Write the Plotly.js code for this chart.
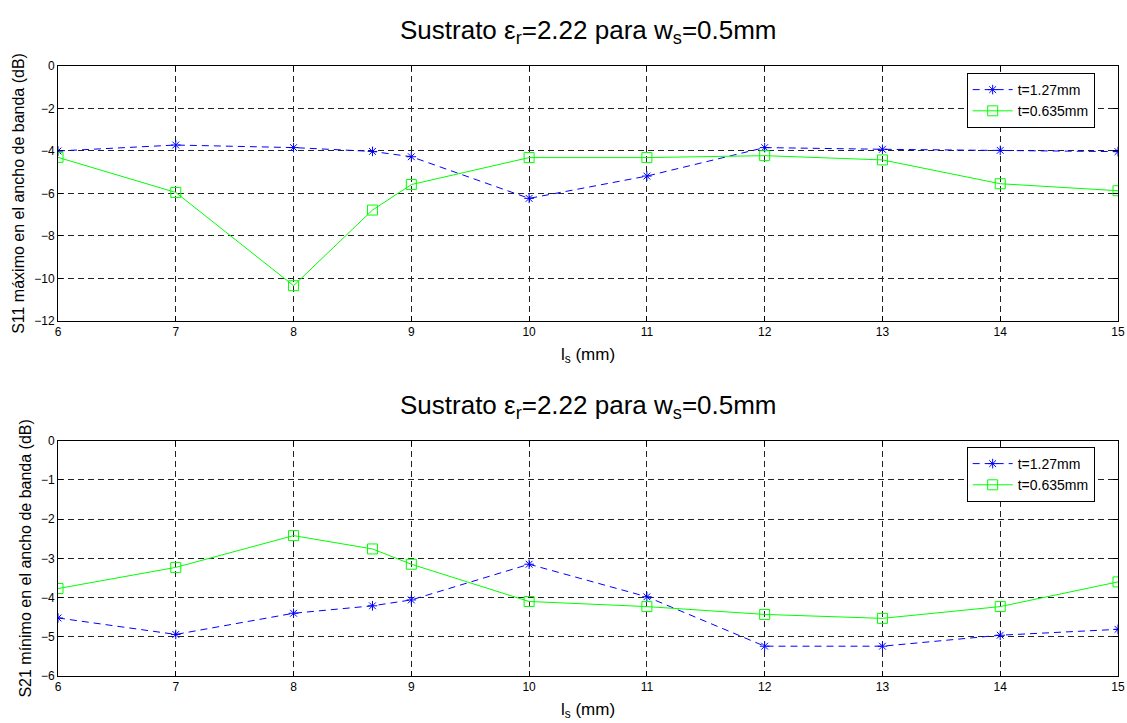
<!DOCTYPE html>
<html>
<head>
<meta charset="utf-8">
<script src="https://cdn.plot.ly/plotly-3.0.1.min.js"></script>
<style>html,body{margin:0;padding:0;background:#fff;}#chart{width:1127px;height:723px;}</style>
</head>
<body>
<div id="chart"></div>
<script>
// Shared x values: l_s (mm)
const ls = [6, 7, 8, 8.67, 9, 10, 11, 12, 13, 14, 15];
// Top panel: S11 maximum in bandwidth (dB)
const s11_t127 = [-4.0, -3.72, -3.84, -4.02, -4.27, -6.23, -5.18, -3.84, -3.92, -3.97, -4.03];
const s11_t0635 = [-4.3, -5.95, -10.34, -6.78, -5.58, -4.31, -4.31, -4.22, -4.42, -5.54, -5.87];
// Bottom panel: S21 minimum in bandwidth (dB)
const s21_t127 = [-4.52, -4.94, -4.40, -4.21, -4.06, -3.15, -3.98, -5.24, -5.24, -4.96, -4.81];
const s21_t0635 = [-3.77, -3.23, -2.42, -2.76, -3.15, -4.10, -4.23, -4.43, -4.53, -4.23, -3.60];
const seriesNames = ['t=1.27mm', 't=0.635mm'];
const titleText = 'Sustrato ε<sub>r</sub>=2.22 para w<sub>s</sub>=0.5mm';
const xTitle = 'l<sub>s</sub> (mm)';
const y1Title = 'S11 máximo en el ancho de banda (dB)';
const y2Title = 'S21 mínimo en el ancho de banda (dB)';

const FONT = 'Liberation Sans, Arial, sans-serif';
const blueLine = {color: '#0000ff', width: 1, dash: '7px,5px'};
const greenLine = {color: '#00ff00', width: 1};
const blueMarker = {symbol: 'asterisk-open', size: 8, color: '#0000ff', line: {color: '#0000ff', width: 1}};
const greenMarker = {symbol: 'square-open', size: 10, color: '#00ff00', line: {color: '#00ff00', width: 1}};

const traces = [
  {x: ls, y: s11_t127, name: seriesNames[0], mode: 'lines+markers', line: blueLine, marker: blueMarker, xaxis: 'x', yaxis: 'y', legend: 'legend'},
  {x: ls, y: s11_t0635, name: seriesNames[1], mode: 'lines+markers', line: greenLine, marker: greenMarker, xaxis: 'x', yaxis: 'y', legend: 'legend'},
  {x: ls, y: s21_t127, name: seriesNames[0], mode: 'lines+markers', line: blueLine, marker: blueMarker, xaxis: 'x2', yaxis: 'y2', legend: 'legend2'},
  {x: ls, y: s21_t0635, name: seriesNames[1], mode: 'lines+markers', line: greenLine, marker: greenMarker, xaxis: 'x2', yaxis: 'y2', legend: 'legend2'}
];

function xax(anchor) {
  return {
    anchor: anchor, domain: [0, 1], range: [6, 15], dtick: 1, tick0: 6,
    showgrid: true, gridcolor: '#222', griddash: '6px,4px', gridwidth: 1,
    zeroline: false, showline: true, linecolor: '#000', linewidth: 1, mirror: 'ticks',
    ticks: 'inside', ticklen: 5, tickcolor: '#000',
    tickfont: {family: FONT, size: 12, color: '#000'},
    title: {text: xTitle, font: {family: FONT, size: 17, color: '#000'}, standoff: 9}
  };
}
function yax(anchor, dom, rng, dt, title) {
  return {
    anchor: anchor, domain: dom, range: rng, dtick: dt,
    showgrid: true, gridcolor: '#222', griddash: '6px,4px', gridwidth: 1,
    zeroline: false, showline: true, linecolor: '#000', linewidth: 1, mirror: 'ticks',
    ticks: 'inside', ticklen: 5, tickcolor: '#000',
    tickfont: {family: FONT, size: 12, color: '#000'},
    title: {text: title, font: {family: FONT, size: 16, color: '#000'}, standoff: 5}
  };
}
function leg(y) {
  return {
    x: 0.978, xanchor: 'right', y: y, yanchor: 'top',
    bgcolor: '#fff', bordercolor: '#000', borderwidth: 1,
    font: {family: FONT, size: 14, color: '#000'},
    tracegroupgap: 0, itemwidth: 40
  };
}

const layout = {
  width: 1127, height: 723,
  margin: {l: 58, r: 9, t: 66, b: 47},
  paper_bgcolor: '#fff', plot_bgcolor: '#fff',
  font: {family: FONT, color: '#000'},
  showlegend: true,
  xaxis: xax('y'),
  yaxis: yax('x', [0.582, 1], [-12, 0], 2, y1Title),
  xaxis2: xax('y2'),
  yaxis2: yax('x2', [0, 0.3857], [-6, 0], 1, y2Title),
  legend: leg(0.9885),
  legend2: leg(0.3754),
  annotations: [
    {text: titleText, xref: 'paper', yref: 'paper', x: 0.5, y: 1, yshift: 16, xanchor: 'center', yanchor: 'bottom', showarrow: false, font: {family: FONT, size: 26, color: '#000'}},
    {text: titleText, xref: 'paper', yref: 'paper', x: 0.5, y: 0.3857, yshift: 16, xanchor: 'center', yanchor: 'bottom', showarrow: false, font: {family: FONT, size: 26, color: '#000'}}
  ]
};

Plotly.newPlot('chart', traces, layout, {displayModeBar: false, staticPlot: true});
</script>
</body>
</html>
